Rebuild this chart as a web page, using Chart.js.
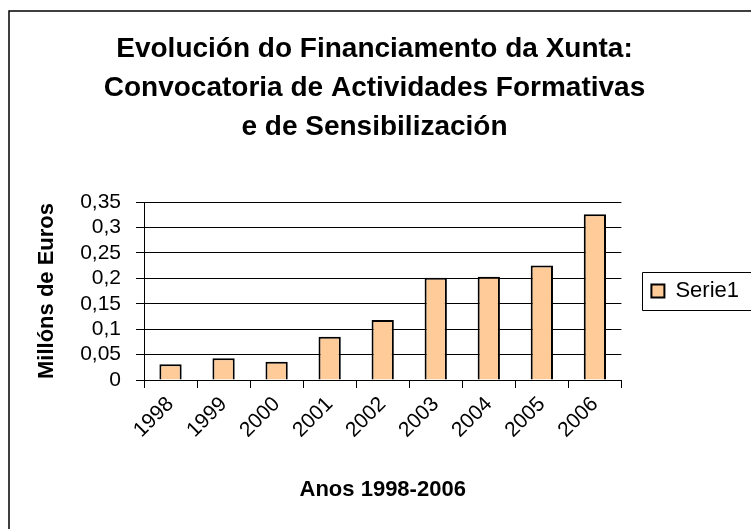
<!DOCTYPE html>
<html>
<head>
<meta charset="utf-8">
<script src="https://cdn.jsdelivr.net/npm/chart.js@4"></script>
<style>
	html, body { margin: 0; padding: 0; background: #fff; }
	canvas { display: block; }
</style>
</head>
<body>
<canvas id="chart" width="751" height="529"></canvas>
<script>
const years = ['1998', '1999', '2000', '2001', '2002', '2003', '2004', '2005', '2006'];
const funding = [0.031, 0.043, 0.036, 0.085, 0.118, 0.201, 0.203, 0.225, 0.326];
const yTickLabels = ['0', '0,05', '0,1', '0,15', '0,2', '0,25', '0,3', '0,35'];
const seriesName = 'Serie1';
const titleLines = [
	'Evolución do Financiamento da Xunta:',
	'Convocatoria de Actividades Formativas',
	'e de Sensibilización'
];
const xTitle = 'Anos 1998-2006';
const yTitle = 'Millóns de Euros';

const FONT = '"Liberation Sans", Arial, sans-serif';
const BAR_COLOR = '#FFCC99';

Chart.defaults.color = '#000';
Chart.defaults.font.family = FONT;

//Рамка вокруг диаграммы и рамка легенды
const framePlugin = {
	id: 'frame',
	afterDraw(chart) {
		const ctx = chart.ctx;
		ctx.save();
		ctx.strokeStyle = '#000';
		ctx.lineWidth = 1.5;
		ctx.beginPath();
		ctx.moveTo(9, 540);
		ctx.lineTo(9, 11);
		ctx.lineTo(760, 11);
		ctx.stroke();

		const box = chart.legend.legendHitBoxes[0];
		const mid = box.top + box.height / 2;
		const left = Math.round(box.left - 9) + 0.5;
		const top = Math.round(mid - 19) + 0.5;
		const bottom = Math.round(mid + 19) + 0.5;
		ctx.lineWidth = 1;
		ctx.beginPath();
		ctx.moveTo(760, top);
		ctx.lineTo(left, top);
		ctx.lineTo(left, bottom);
		ctx.lineTo(760, bottom);
		ctx.stroke();
		ctx.restore();
	}
};

new Chart(document.getElementById('chart'), {
	type: 'bar',
	data: {
		labels: years,
		datasets: [{
			label: seriesName,
			data: funding,
			backgroundColor: BAR_COLOR,
			borderColor: '#000',
			borderWidth: 2,
			barPercentage: 0.42,
			categoryPercentage: 1
		}]
	},
	options: {
		responsive: false,
		animation: false,
		layout: { padding: { left: 0, right: 2, top: 0, bottom: 0 } },
		plugins: {
			legend: {
				display: true,
				position: 'right',
				fullSize: false,
				labels: {
					boxWidth: 13,
					boxHeight: 13,
					padding: 30,
					font: { size: 22 }
				}
			},
			tooltip: { enabled: false },
			title: {
				display: true,
				text: titleLines,
				font: { size: 28, weight: 'bold', lineHeight: '39px' },
				padding: { top: 30, bottom: 55 }
			}
		},
		scales: {
			x: {
				afterFit(scale) { scale.height = 149; },
				grid: {
					offset: true,
					drawOnChartArea: false,
					color: '#000',
					tickLength: 8
				},
				border: { color: '#000', width: 1 },
				ticks: {
					font: { size: 21 },
					minRotation: 45,
					maxRotation: 45,
					autoSkip: false,
					padding: 4
				},
				title: {
					display: true,
					text: xTitle,
					font: { size: 22, weight: 'bold' },
					padding: { top: 0, bottom: 26 }
				}
			},
			y: {
				min: 0,
				max: 0.35,
				afterFit(scale) { scale.width = 144; },
				grid: {
					color: '#000',
					tickLength: 8
				},
				border: { color: '#000', width: 1 },
				ticks: {
					stepSize: 0.05,
					autoSkip: false,
					font: { size: 21 },
					padding: 15,
					callback: (value, index) => yTickLabels[index]
				},
				title: {
					display: true,
					text: yTitle,
					font: { size: 22, weight: 'bold' },
					padding: { top: 34, bottom: 0 }
				}
			}
		}
	},
	plugins: [framePlugin]
});
</script>
</body>
</html>
